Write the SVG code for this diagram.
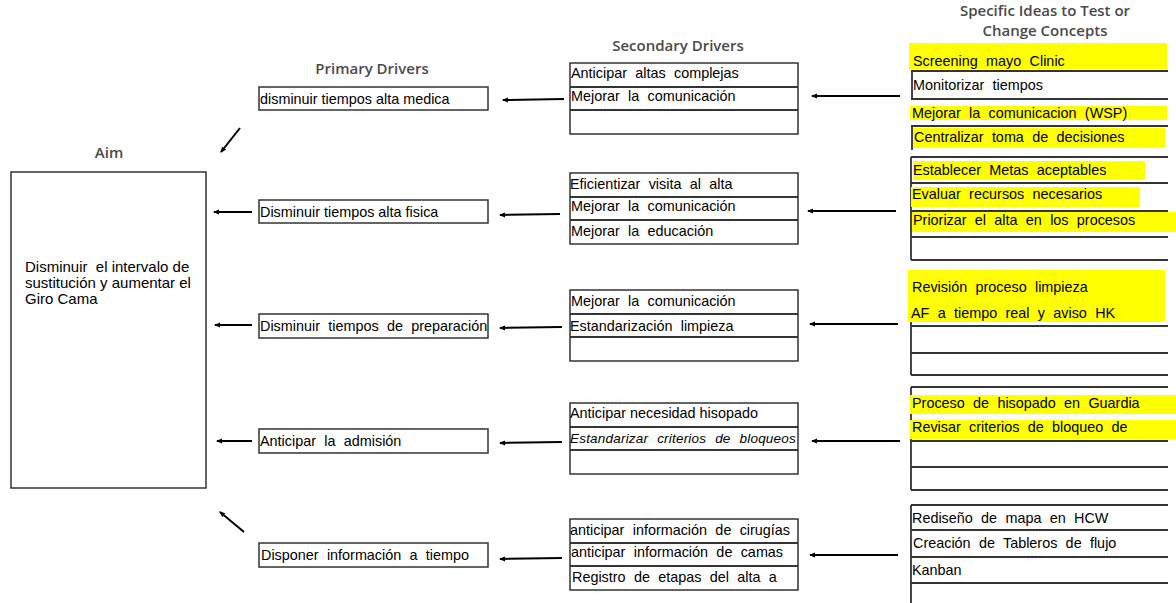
<svg xmlns="http://www.w3.org/2000/svg" width="1176" height="603" viewBox="0 0 1176 603">
<style>
.t{font-family:"Liberation Sans",Arial,sans-serif;font-size:14.4px;fill:#000}
.w{word-spacing:4.3px}
.h{font-family:"Open Sans","Noto Sans",sans-serif;font-size:15px;font-weight:600;fill:#4a4a4a;text-anchor:middle}
.b{fill:#fff;stroke:#333;stroke-width:1.5}
.l{stroke:#333;stroke-width:1.8;fill:none}
.y{fill:#ffff00}
.c{stroke:#000;stroke-width:2;fill:none;marker-end:url(#ah)}
</style>
<defs>
<marker id="ah" markerWidth="6" markerHeight="6" refX="5" refY="3" orient="auto" markerUnits="userSpaceOnUse">
<path d="M0,0.5 L6,3 L0,5.5 Z" fill="#000"/>
</marker>
</defs>
<rect width="1176" height="603" fill="#fff"/>

<g id="titles">
<text class="h" x="109" y="158">Aim</text>
<text class="h" x="372" y="74">Primary Drivers</text>
<text class="h" x="678" y="51">Secondary Drivers</text>
<text class="h" x="1045" y="16">Specific Ideas to Test or</text>
<text class="h" x="1045" y="36">Change Concepts</text>
</g>

<g id="aim">
<rect class="b" x="11" y="172" width="195" height="316"/>
<text class="t" x="25" y="272" style="font-size:15px;white-space:pre">Disminuir  el intervalo de</text>
<text class="t" x="25" y="288" style="font-size:15px">sustitución y aumentar el</text>
<text class="t" x="25" y="304" style="font-size:15px">Giro Cama</text>
</g>

<g id="primary1"><rect class="b" x="259" y="87" width="229" height="23"/><text class="t" x="260" y="104">disminuir tiempos alta medica</text></g>
<g id="primary2"><rect class="b" x="259" y="200" width="229" height="23"/><text class="t" x="260" y="217">Disminuir tiempos alta fisica</text></g>
<g id="primary3"><rect class="b" x="259" y="314" width="229" height="24"/><text class="t w" x="260" y="331">Disminuir tiempos de preparación</text></g>
<g id="primary4"><rect class="b" x="259" y="429" width="229" height="24"/><text class="t w" x="260" y="446">Anticipar la admisión</text></g>
<g id="primary5"><rect class="b" x="259" y="543" width="229" height="24"/><text class="t w" x="261" y="560">Disponer información a tiempo</text></g>

<g id="secondary1">
<rect class="b" x="570" y="63" width="228" height="71"/>
<line class="l" x1="570" y1="87" x2="798" y2="87"/><line class="l" x1="570" y1="110" x2="798" y2="110"/>
<text class="t w" x="571" y="78">Anticipar altas complejas</text>
<text class="t w" x="571" y="101">Mejorar la comunicación</text>
</g>
<g id="secondary2">
<rect class="b" x="570" y="173" width="228" height="71"/>
<line class="l" x1="570" y1="197" x2="798" y2="197"/><line class="l" x1="570" y1="220" x2="798" y2="220"/>
<text class="t w" x="570" y="189">Eficientizar visita al alta</text>
<text class="t w" x="571" y="211">Mejorar la comunicación</text>
<text class="t w" x="571" y="236">Mejorar la educación</text>
</g>
<g id="secondary3">
<rect class="b" x="570" y="290" width="228" height="71"/>
<line class="l" x1="570" y1="314" x2="798" y2="314"/><line class="l" x1="570" y1="337" x2="798" y2="337"/>
<text class="t w" x="571" y="306">Mejorar la comunicación</text>
<text class="t w" x="570" y="331">Estandarización limpieza</text>
</g>
<g id="secondary4">
<rect class="b" x="570" y="403" width="228" height="71"/>
<line class="l" x1="570" y1="427" x2="798" y2="427"/><line class="l" x1="570" y1="450" x2="798" y2="450"/>
<text class="t" x="570" y="418">Anticipar necesidad hisopado</text>
<text class="t" x="570" y="443" style="font-style:italic;font-size:13.5px;word-spacing:5px;letter-spacing:0.2px">Estandarizar criterios de bloqueos</text>
</g>
<g id="secondary5">
<rect class="b" x="570" y="519" width="228" height="71"/>
<line class="l" x1="570" y1="543" x2="798" y2="543"/><line class="l" x1="570" y1="566" x2="798" y2="566"/>
<text class="t w" x="570" y="535">anticipar información de cirugías</text>
<text class="t w" x="571" y="557">anticipar información de camas</text>
<text class="t w" x="572" y="582">Registro de etapas del alta a</text>
</g>

<g id="ideas1">
<rect class="y" x="909" y="43" width="258" height="26"/>
<rect class="y" x="910" y="106" width="257" height="14"/>
<line class="l" x1="911" y1="71" x2="1168" y2="71"/>
<line class="l" x1="911" y1="99" x2="1168" y2="99"/>
<line class="l" x1="911" y1="126" x2="1168" y2="126"/>
<line class="l" x1="911" y1="157" x2="1168" y2="157"/>
<line class="l" x1="912" y1="71" x2="912" y2="99"/>
<line class="l" x1="912" y1="126" x2="912" y2="150"/>
<rect class="y" x="913" y="128" width="252" height="20"/>
<text class="t w" x="913" y="66">Screening mayo Clinic</text>
<text class="t w" x="913" y="90">Monitorizar tiempos</text>
<text class="t w" x="912" y="118">Mejorar la comunicacion (WSP)</text>
<text class="t w" x="914" y="142">Centralizar toma de decisiones</text>
</g>
<g id="ideas2">
<line class="l" x1="911" y1="157" x2="911" y2="260"/>
<line class="l" x1="911" y1="183" x2="1168" y2="183"/>
<line class="l" x1="911" y1="211" x2="1168" y2="211"/>
<line class="l" x1="911" y1="237" x2="1168" y2="237"/>
<line class="l" x1="911" y1="260" x2="1168" y2="260"/>
<rect class="y" x="913" y="161" width="232" height="19"/>
<rect class="y" x="911" y="187" width="229" height="20"/>
<rect class="y" x="912" y="212" width="264" height="20"/>
<text class="t w" x="913" y="175">Establecer Metas aceptables</text>
<text class="t w" x="912" y="199">Evaluar recursos necesarios</text>
<text class="t w" x="913" y="225">Priorizar el alta en los procesos</text>
</g>
<g id="ideas3">
<line class="l" x1="911" y1="322" x2="911" y2="375"/>
<line class="l" x1="911" y1="326" x2="1168" y2="326"/>
<line class="l" x1="911" y1="353" x2="1168" y2="353"/>
<line class="l" x1="911" y1="375" x2="1168" y2="375"/>
<rect class="y" x="908" y="270" width="257" height="52"/>
<text class="t w" x="912" y="292">Revisión proceso limpieza</text>
<text class="t w" x="911" y="318">AF a tiempo real y aviso HK</text>
</g>
<g id="ideas4">
<line class="l" x1="911" y1="387" x2="1168" y2="387"/>
<line class="l" x1="911" y1="387" x2="911" y2="490"/>
<line class="l" x1="911" y1="441" x2="1168" y2="441"/>
<line class="l" x1="911" y1="467" x2="1168" y2="467"/>
<line class="l" x1="911" y1="490" x2="1168" y2="490"/>
<rect class="y" x="910" y="395" width="266" height="19"/>
<rect class="y" x="910" y="420" width="266" height="19"/>
<text class="t w" x="912" y="408">Proceso de hisopado en Guardia</text>
<text class="t w" x="912" y="432">Revisar criterios de bloqueo de</text>
</g>
<g id="ideas5">
<line class="l" x1="911" y1="505" x2="1168" y2="505"/>
<line class="l" x1="911" y1="505" x2="911" y2="603"/>
<line class="l" x1="911" y1="530" x2="1168" y2="530"/>
<line class="l" x1="911" y1="557" x2="1168" y2="557"/>
<line class="l" x1="911" y1="583" x2="1168" y2="583"/>
<text class="t w" x="912" y="523">Rediseño de mapa en HCW</text>
<text class="t w" x="913" y="548">Creación de Tableros de flujo</text>
<text class="t" x="912" y="575">Kanban</text>
</g>

<g id="connectors">
<line class="c" x1="240" y1="128" x2="221" y2="152"/>
<line class="c" x1="252" y1="212" x2="214" y2="212"/>
<line class="c" x1="252" y1="325" x2="215" y2="325"/>
<line class="c" x1="252" y1="441" x2="217" y2="441"/>
<line class="c" x1="244" y1="532" x2="220" y2="512"/>
<line class="c" x1="564" y1="99" x2="503" y2="100"/>
<line class="c" x1="560" y1="214" x2="500" y2="215"/>
<line class="c" x1="562" y1="327" x2="500" y2="328"/>
<line class="c" x1="562" y1="442" x2="500" y2="443"/>
<line class="c" x1="562" y1="558" x2="500" y2="559"/>
<line class="c" x1="900" y1="96" x2="812" y2="96"/>
<line class="c" x1="896" y1="211" x2="808" y2="211"/>
<line class="c" x1="898" y1="324" x2="810" y2="324"/>
<line class="c" x1="900" y1="441" x2="812" y2="441"/>
<line class="c" x1="898" y1="555" x2="810" y2="555"/>
</g>
</svg>
